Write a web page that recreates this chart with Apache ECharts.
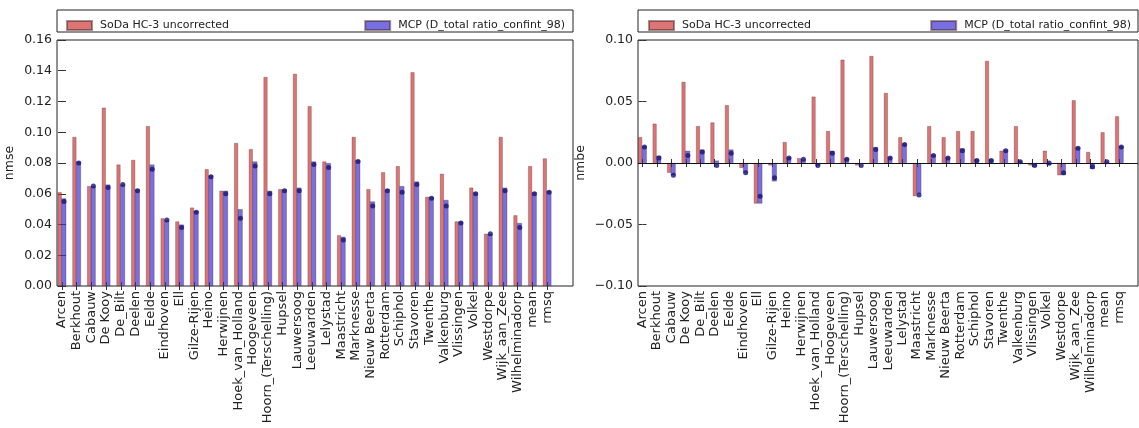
<!DOCTYPE html>
<html>
<head>
<meta charset="utf-8">
<script src="https://cdn.jsdelivr.net/npm/echarts@6/dist/echarts.min.js"></script>
<style>
html,body{margin:0;padding:0;background:#fff;}
#c{width:1139px;height:428px;}
</style>
</head>
<body>
<div id="c"></div>
<script>
const categories = ['Arcen','Berkhout','Cabauw','De Kooy','De_Bilt','Deelen','Eelde','Eindhoven','Ell','Gilze-Rijen','Heino','Herwijnen','Hoek_van_Holland','Hoogeveen','Hoorn_(Terschelling)','Hupsel','Lauwersoog','Leeuwarden','Lelystad','Maastricht','Marknesse','Nieuw Beerta','Rotterdam','Schiphol','Stavoren','Twenthe','Valkenburg','Vlissingen','Volkel','Westdorpe','Wijk_aan_Zee','Wilhelminadorp','mean','rmsq'];

const seriesNames = ['SoDa HC-3 uncorrected', 'MCP (D_total ratio_confint_98)'];

// nmse (left panel)
const nmseSoda = [0.061,0.097,0.065,0.116,0.079,0.082,0.104,0.044,0.042,0.051,0.076,0.062,0.093,0.089,0.136,0.063,0.138,0.117,0.081,0.033,0.097,0.063,0.074,0.078,0.139,0.058,0.073,0.042,0.064,0.034,0.097,0.046,0.078,0.083];
const nmseMcp  = [0.057,0.081,0.065,0.066,0.066,0.063,0.079,0.043,0.040,0.049,0.072,0.062,0.050,0.081,0.062,0.063,0.064,0.081,0.080,0.032,0.082,0.055,0.063,0.065,0.068,0.058,0.056,0.042,0.061,0.034,0.064,0.041,0.061,0.062];
const nmseDots = [0.055,0.080,0.065,0.064,0.066,0.062,0.076,0.043,0.038,0.048,0.071,0.060,0.044,0.078,0.060,0.062,0.062,0.079,0.077,0.030,0.081,0.052,0.062,0.061,0.066,0.057,0.052,0.041,0.060,0.034,0.062,0.038,0.060,0.061];

// nmbe (right panel)
const nmbeSoda = [0.021,0.032,-0.008,0.066,0.030,0.033,0.047,-0.004,-0.033,-0.002,0.017,0.004,0.054,0.026,0.084,-0.002,0.087,0.057,0.021,-0.027,0.030,0.021,0.026,0.026,0.083,0.010,0.030,-0.002,0.010,-0.010,0.051,0.009,0.025,0.038];
const nmbeMcp  = [0.014,0.006,-0.010,0.010,0.011,0.002,0.011,-0.008,-0.033,-0.015,0.005,0.003,-0.002,0.010,0.004,-0.001,0.013,0.005,0.016,-0.025,0.007,0.005,0.012,0.003,0.003,0.011,0.002,-0.003,-0.002,-0.010,0.013,-0.005,0.001,0.014];
const nmbeDots = [0.013,0.004,-0.010,0.006,0.009,-0.002,0.008,-0.008,-0.027,-0.012,0.004,0.003,-0.002,0.008,0.003,-0.002,0.011,0.004,0.015,-0.026,0.006,0.004,0.010,0.002,0.002,0.010,0.001,-0.002,0.000,-0.008,0.012,-0.003,0.001,0.013];

const idx = categories.map((_, i) => i);
const pts = arr => arr.map((v, i) => [i, v]);

const FONT = 'DejaVu Sans';
const RED = 'rgba(205,58,60,0.7)';
const BLUE = 'rgba(62,50,212,0.7)';
const EDGE = 'rgba(60,20,20,0.45)';
const fmt = v => (v < 0 ? '\u2212' + Math.abs(v).toFixed(2) : v.toFixed(2));

function xAxes(gridIndex, min, max) {
  return [
    {
      type: 'value', gridIndex, min, max, position: 'bottom',
      axisLine: {show: false},
      splitLine: {show: false},
      axisTick: {show: true, inside: true, length: 4, customValues: idx, lineStyle: {color: '#333'}},
      axisLabel: {
        customValues: idx, rotate: 90, margin: 5, interval: 0,
        formatter: v => categories[Math.round(v)] || '',
        fontFamily: FONT, fontSize: 13, color: '#222'
      }
    },
    {
      type: 'value', gridIndex, min, max, position: 'top',
      axisLine: {show: false},
      splitLine: {show: false},
      axisTick: {show: true, inside: true, length: 4, customValues: idx, lineStyle: {color: '#333'}},
      axisLabel: {show: false}
    }
  ];
}
function yAxes(gridIndex, min, max, interval, name, nameGap) {
  return [
    {
      type: 'value', gridIndex, min, max, interval, position: 'left',
      name, nameLocation: 'middle', nameGap, nameRotate: 90,
      nameTextStyle: {fontFamily: FONT, fontSize: 12.5, color: '#222'},
      axisLine: {show: false},
      splitLine: {show: false},
      axisTick: {show: true, inside: true, length: 4, lineStyle: {color: '#333'}},
      axisLabel: {formatter: fmt, fontFamily: FONT, fontSize: 12.5, color: '#222', margin: 5}
    },
    {
      type: 'value', gridIndex, min, max, interval, position: 'right',
      axisLine: {show: false},
      splitLine: {show: false},
      axisTick: {show: true, inside: true, length: 4, lineStyle: {color: '#333'}},
      axisLabel: {show: false}
    }
  ];
}

function barSeries(name, data, color, xi, yi, width, extra) {
  return Object.assign({
    type: 'bar', name, data: pts(data), xAxisIndex: xi, yAxisIndex: yi,
    barWidth: width, barGap: '-10%',
    itemStyle: {color, borderColor: EDGE, borderWidth: 0.6},
    emphasis: {disabled: true}, animation: false
  }, extra || {});
}
function dotSeries(data, xi, yi) {
  return {
    type: 'scatter', name: 'dots', data: pts(data), xAxisIndex: xi, yAxisIndex: yi,
    symbol: 'circle', symbolSize: 5, symbolOffset: [2, 0],
    itemStyle: {color: '#14147a'}, z: 5, animation: false, silent: true
  };
}

const legendText = {fontFamily: FONT, fontSize: 11, color: '#222', padding: [0, 0, 0, 3]};

const option = {
  backgroundColor: '#fff',
  animation: false,
  textStyle: {fontFamily: FONT},
  graphic: [
    {type: 'rect', shape: {x: 57, y: 10, width: 516, height: 22}, style: {fill: '#fff', stroke: '#222', lineWidth: 1}, z: 0},
    {type: 'rect', shape: {x: 638, y: 10, width: 500, height: 22}, style: {fill: '#fff', stroke: '#222', lineWidth: 1}, z: 0}
  ],
  legend: [
    {data: [seriesNames[0]], left: 61, top: 15, itemWidth: 25, itemHeight: 9, textStyle: legendText, selectedMode: false, icon: 'rect', z: 10},
    {data: [seriesNames[1]], right: 1139 - 570, top: 15, itemWidth: 25, itemHeight: 9, textStyle: legendText, selectedMode: false, icon: 'rect', z: 10},
    {data: [seriesNames[0]], left: 643, top: 15, itemWidth: 25, itemHeight: 9, textStyle: legendText, selectedMode: false, icon: 'rect', z: 10},
    {data: [seriesNames[1]], right: 3, top: 15, itemWidth: 25, itemHeight: 9, textStyle: legendText, selectedMode: false, icon: 'rect', z: 10}
  ],
  grid: [
    {left: 57, top: 40, width: 516, height: 246, show: true, borderColor: '#222', borderWidth: 1, backgroundColor: 'transparent'},
    {left: 638, top: 40, width: 500, height: 246, show: true, borderColor: '#222', borderWidth: 1, backgroundColor: 'transparent'}
  ],
  xAxis: [].concat(xAxes(0, -0.34, 34.76), xAxes(1, -0.31, 34.29)),
  yAxis: [].concat(
    yAxes(0, 0, 0.16, 0.02, 'nmse', 41),
    yAxes(1, -0.10, 0.10, 0.05, 'nmbe', 51)
  ),
  series: [
    barSeries(seriesNames[0], nmseSoda, RED, 0, 0, 4),
    barSeries(seriesNames[1], nmseMcp, BLUE, 0, 0, 5),
    dotSeries(nmseDots, 0, 0),
    barSeries(seriesNames[0], nmbeSoda, RED, 2, 2, 4),
    barSeries(seriesNames[1], nmbeMcp, BLUE, 2, 2, 5, {
      markLine: {
        silent: true, symbol: 'none', label: {show: false},
        lineStyle: {color: '#111', width: 1, type: 'solid'},
        data: [{yAxis: 0}]
      }
    }),
    dotSeries(nmbeDots, 2, 2)
  ]
};

const chart = echarts.init(document.getElementById('c'), null, {renderer: 'canvas'});
chart.setOption(option);
</script>
</body>
</html>
